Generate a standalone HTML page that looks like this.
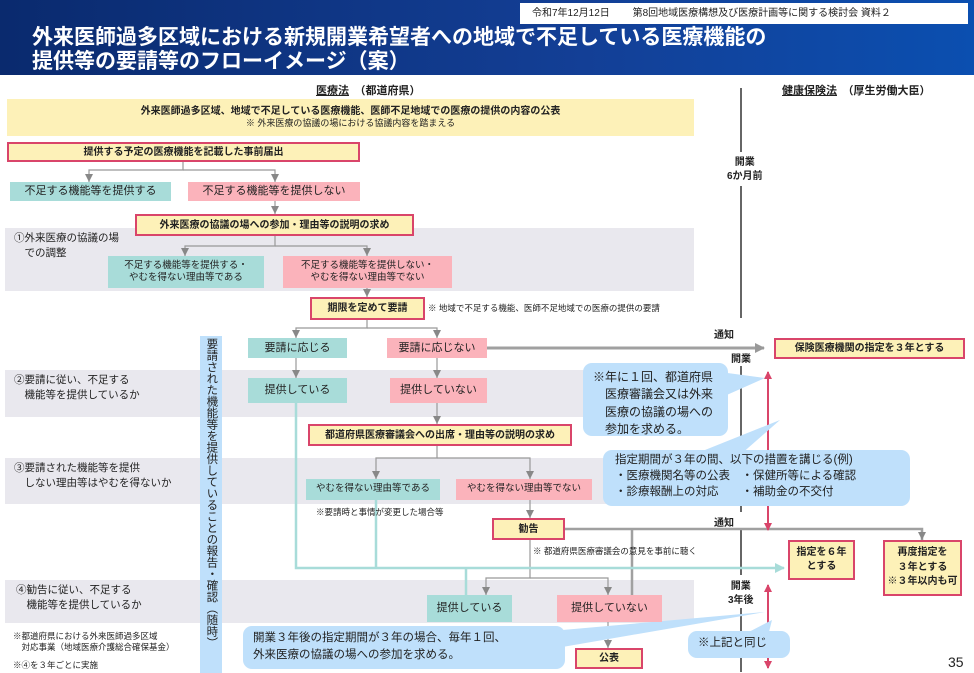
<!DOCTYPE html>
<html><head><meta charset="utf-8"><style>
*{margin:0;padding:0;box-sizing:border-box}
body{width:974px;height:672px;position:relative;overflow:hidden;background:#fff;font-family:"Liberation Sans","Noto Sans CJK JP",sans-serif;color:#222}
.a{position:absolute}
.b{position:absolute;display:flex;align-items:center;justify-content:center;text-align:center;font-size:10px;line-height:1.3}
.t{background:#a8dcd9}.p{background:#fbb3bb}
.r{background:#fdf1b8;border:2.5px solid #d9456a;font-weight:bold;font-size:10px}
.g{position:absolute;background:#e9e8ee}
.call{position:absolute;background:#bfe0fb;border-radius:9px;font-size:12px;line-height:1.45;padding:6px 10px}
.lbl{position:absolute;font-size:10.5px;line-height:1.4}
</style></head><body>
<div class="a" style="left:0;top:0;width:974px;height:75px;background:linear-gradient(90deg,#0a2a6e,#133f96 60%,#0b4fb0)"></div>
<div class="a" style="left:520px;top:3px;width:448px;height:21px;background:#fff;font-size:10px;line-height:21px;padding-left:12px">令和7年12月12日　　 第8回地域医療構想及び医療計画等に関する検討会 資料２</div>
<div class="a" style="left:32px;top:26px;color:#fff;font-weight:bold;font-size:21px;line-height:24px">外来医師過多区域における新規開業希望者への地域で不足している医療機能の<br>提供等の要請等のフローイメージ（案）</div>
<div class="a" style="left:316px;top:82px;font-size:11px;font-weight:bold"><u>医療法</u>　（都道府県）</div>
<div class="a" style="left:782px;top:82px;font-size:11px;font-weight:bold"><u>健康保険法</u>　（厚生労働大臣）</div>

<div class="g" style="left:5px;top:228px;width:689px;height:63px"></div>
<div class="g" style="left:5px;top:370px;width:689px;height:47px"></div>
<div class="g" style="left:5px;top:458px;width:689px;height:46px"></div>
<div class="g" style="left:5px;top:580px;width:689px;height:43px"></div>

<div class="b" style="left:7px;top:99px;width:687px;height:37px;background:#fdf1b8;flex-direction:column"><b>外来医師過多区域、地域で不足している医療機能、医師不足地域での医療の提供の内容の公表</b><span style="font-size:9px">※ 外来医療の協議の場における協議内容を踏まえる</span></div>

<svg class="a" style="left:0;top:0" width="974" height="672">
<defs>
<marker id="ag" markerWidth="8" markerHeight="8" refX="8" refY="4" orient="auto" markerUnits="userSpaceOnUse"><path d="M0,0 L8,4 L0,8z" fill="#888"/></marker>
<marker id="ah" markerWidth="10" markerHeight="10" refX="9" refY="5" orient="auto" markerUnits="userSpaceOnUse"><path d="M0,0 L10,5 L0,10z" fill="#999"/></marker>
<marker id="at" markerWidth="10" markerHeight="10" refX="9" refY="5" orient="auto" markerUnits="userSpaceOnUse"><path d="M0,0 L10,5 L0,10z" fill="#a8dcd9"/></marker>
<marker id="ap" markerWidth="8" markerHeight="8" refX="7" refY="4" orient="auto-start-reverse" markerUnits="userSpaceOnUse"><path d="M0,0 L8,4 L0,8z" fill="#d9456a"/></marker>
</defs>
<g stroke="#333" stroke-width="1.5">
<line x1="741" y1="88" x2="741" y2="152"/><line x1="741" y1="186" x2="741" y2="318"/>
<line x1="741" y1="366" x2="741" y2="512"/><line x1="741" y1="530" x2="741" y2="575"/>
<line x1="741" y1="608" x2="741" y2="672"/>
</g>
<g stroke="#999" stroke-width="1.2" fill="none">
<path d="M183 161V170H89V182" marker-end="url(#ag)"/><path d="M183 170H275V182" marker-end="url(#ag)"/>
<path d="M275 201V214" marker-end="url(#ag)"/>
<path d="M275 235V246H185V256" marker-end="url(#ag)"/><path d="M275 246H367V256" marker-end="url(#ag)"/>
<path d="M367 288V297" marker-end="url(#ag)"/>
<path d="M367 320V328H296V338" marker-end="url(#ag)"/><path d="M367 328H437V338" marker-end="url(#ag)"/>
<path d="M296 358V378" marker-end="url(#ag)"/><path d="M437 358V378" marker-end="url(#ag)"/>
<path d="M437 403V424" marker-end="url(#ag)"/>
<path d="M437 446V458H376V479" marker-end="url(#ag)"/><path d="M437 458H530V479" marker-end="url(#ag)"/>
<path d="M530 500V518" marker-end="url(#ag)"/>
<path d="M530 540V578H486V595" marker-end="url(#ag)"/><path d="M530 578H608V595" marker-end="url(#ag)"/>
<path d="M608 622V648" marker-end="url(#ag)"/>
</g>
<g stroke="#a0a0a0" stroke-width="3" fill="none">
<path d="M487 348H764" marker-end="url(#ah)"/>
<path d="M565 529H922V540" stroke-width="2.5" marker-end="url(#ag)"/>
<path d="M632 598V529" stroke-width="2.5"/>
</g>
<g stroke="#a8dcd9" stroke-width="2.5" fill="none">
<path d="M296 403V568H784" marker-end="url(#at)"/>
<path d="M376 500V568"/><path d="M466 595V568"/>
</g>
<g stroke="#d9456a" stroke-width="2" fill="none">
<path d="M768 372V530" marker-start="url(#ap)" marker-end="url(#ap)"/>
<path d="M768 585V668" marker-start="url(#ap)" marker-end="url(#ap)"/>
</g>
<path d="M720 372L765 378L720 398Z" fill="#bfe0fb"/>
<path d="M700 452L780 420L740 455Z" fill="#bfe0fb"/>
<path d="M540 632L765 612L545 650Z" fill="#bfe0fb"/>
<path d="M745 634L772 620L768 636Z" fill="#bfe0fb"/>
</svg>

<div class="b r" style="left:7px;top:142px;width:353px;height:20px">提供する予定の医療機能を記載した事前届出</div>
<div class="b t" style="left:10px;top:182px;width:161px;height:19px;font-size:11px">不足する機能等を提供する</div>
<div class="b p" style="left:188px;top:182px;width:172px;height:19px;font-size:11px">不足する機能等を提供しない</div>
<div class="b r" style="left:135px;top:214px;width:279px;height:22px">外来医療の協議の場への参加・理由等の説明の求め</div>
<div class="lbl" style="left:14px;top:231px">①外来医療の協議の場<br>　での調整</div>
<div class="b t" style="left:108px;top:256px;width:156px;height:32px;font-size:9.5px">不足する機能等を提供する・<br>やむを得ない理由等である</div>
<div class="b p" style="left:283px;top:256px;width:169px;height:32px;font-size:9.5px">不足する機能等を提供しない・<br>やむを得ない理由等でない</div>
<div class="b r" style="left:310px;top:297px;width:115px;height:23px">期限を定めて要請</div>
<div class="a" style="left:428px;top:302px;font-size:8.5px">※ 地域で不足する機能、医師不足地域での医療の提供の要請</div>
<div class="b" style="left:200px;top:336px;width:22px;height:337px;background:#bfe0fb;font-size:11.5px;line-height:1.1;writing-mode:vertical-rl;justify-content:flex-start;padding-top:2px">要請された機能等を提供していることの報告・確認（随時）</div>
<div class="b t" style="left:248px;top:338px;width:99px;height:20px;font-size:11px">要請に応じる</div>
<div class="b p" style="left:387px;top:338px;width:100px;height:20px;font-size:11px">要請に応じない</div>
<div class="a" style="left:714px;top:326px;font-size:10px;font-weight:bold">通知</div>
<div class="a" style="left:731px;top:350px;font-size:10px;font-weight:bold">開業</div>
<div class="b r" style="left:774px;top:338px;width:191px;height:21px">保険医療機関の指定を３年とする</div>
<div class="lbl" style="left:14px;top:373px">②要請に従い、不足する<br>　機能等を提供しているか</div>
<div class="b t" style="left:248px;top:378px;width:99px;height:25px;font-size:11px">提供している</div>
<div class="b p" style="left:390px;top:378px;width:97px;height:25px;font-size:11px">提供していない</div>
<div class="call" style="left:583px;top:363px;width:145px;height:73px">※年に１回、都道府県<br>　医療審議会又は外来<br>　医療の協議の場への<br>　参加を求める。</div>
<div class="b r" style="left:308px;top:424px;width:264px;height:22px">都道府県医療審議会への出席・理由等の説明の求め</div>
<div class="lbl" style="left:14px;top:461px">③要請された機能等を提供<br>　しない理由等はやむを得ないか</div>
<div class="call" style="left:603px;top:450px;width:307px;height:56px;padding:3px 12px;font-size:11.5px;line-height:1.38">指定期間が３年の間、以下の措置を講じる(例)<br>・医療機関名等の公表　・保健所等による確認<br>・診療報酬上の対応　　・補助金の不交付</div>
<div class="b t" style="left:306px;top:479px;width:134px;height:21px;font-size:9.5px">やむを得ない理由等である</div>
<div class="b p" style="left:456px;top:479px;width:136px;height:21px;font-size:9.5px">やむを得ない理由等でない</div>
<div class="a" style="left:316px;top:506px;font-size:8.5px">※要請時と事情が変更した場合等</div>
<div class="b r" style="left:492px;top:518px;width:73px;height:22px">勧告</div>
<div class="a" style="left:714px;top:514px;font-size:10px;font-weight:bold">通知</div>
<div class="a" style="left:533px;top:545px;font-size:8.5px">※ 都道府県医療審議会の意見を事前に聴く</div>
<div class="b r" style="left:788px;top:540px;width:67px;height:40px;line-height:1.4">指定を６年<br>とする</div>
<div class="b r" style="left:883px;top:540px;width:79px;height:56px;line-height:1.45">再度指定を<br>３年とする<br>※３年以内も可</div>
<div class="a" style="left:728px;top:580px;font-size:10px;font-weight:bold;text-align:center;line-height:1.35">開業<br>3年後</div>
<div class="a" style="left:727px;top:156px;font-size:10px;font-weight:bold;text-align:center;line-height:1.35">開業<br>6か月前</div>
<div class="lbl" style="left:16px;top:583px">④勧告に従い、不足する<br>　機能等を提供しているか</div>
<div class="b t" style="left:427px;top:595px;width:85px;height:27px;font-size:11px">提供している</div>
<div class="b p" style="left:557px;top:595px;width:105px;height:27px;font-size:11px">提供していない</div>
<div class="call" style="left:243px;top:626px;width:322px;height:43px;padding:4px 10px;font-size:11.5px;line-height:1.45">開業３年後の指定期間が３年の場合、毎年１回、<br>外来医療の協議の場への参加を求める。</div>
<div class="call" style="left:688px;top:631px;width:102px;height:27px;padding:4px 10px;font-size:11.5px">※上記と同じ</div>
<div class="b r" style="left:575px;top:648px;width:68px;height:21px">公表</div>
<div class="a" style="left:13px;top:631px;font-size:8.5px;line-height:1.35">※都道府県における外来医師過多区域<br>　対応事業（地域医療介護総合確保基金）</div>
<div class="a" style="left:13px;top:659px;font-size:8.5px">※④を３年ごとに実施</div>
<div class="a" style="left:948px;top:654px;font-size:14px">35</div>
</body></html>
